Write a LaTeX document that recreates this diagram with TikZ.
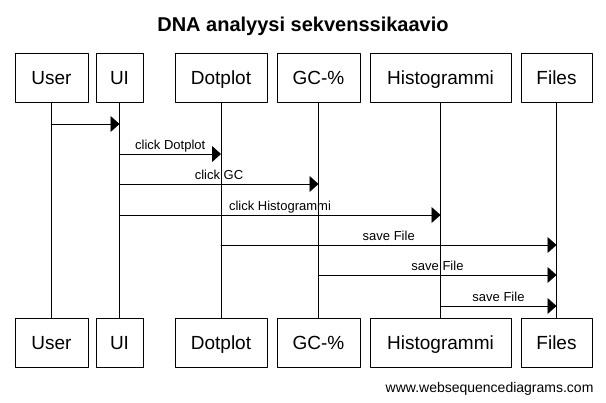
\documentclass[tikz,border=0pt]{standalone}
\usepackage{fontspec}
\setmainfont{Liberation Sans}
\usetikzlibrary{arrows.meta}
\begin{document}
\begin{tikzpicture}[x=1pt,y=-1pt,line join=round,line cap=round,>={Triangle[length=9pt,width=16pt]},
	actor/.style={draw,line width=0.8pt,minimum height=49pt,inner sep=0pt,text height=14pt,text depth=0pt,font=\fontsize{19}{19}\selectfont},
	msg/.style={->,line width=0.8pt},
	lbl/.style={anchor=base,yshift=4pt,inner sep=0pt,font=\fontsize{13}{13}\selectfont}]
\def \ytop{77.5}\def \ybot{343}
\useasboundingbox (0,0) rectangle (606,403);
\node[anchor=base,font=\fontsize{20}{20}\selectfont\bfseries] (title) at (303,32) {DNA analyysi sekvenssikaavio};
\foreach \n/\x/\w/\t in {user/51.5/73/User,ui/119.5/47/UI,dot/221/92/Dotplot,gc/318.5/83/GC-\%,hist/440.5/141/Histogrammi,files/556.5/71/Files}{
	\node[actor,minimum width=\w pt] (\n-top) at (\x,\ytop) {\t};
	\node[actor,minimum width=\w pt] (\n-bot) at (\x,\ybot) {\t};
	\draw[line width=0.8pt] (\n-top) -- (\n-bot);
}
\draw[msg] (user-top |- 0,124) -- (ui-top |- 0,124);
\foreach \a/\b/\y/\t in {ui/dot/154/click Dotplot,ui/gc/184/click GC,ui/hist/215/click Histogrammi,dot/files/245/save File,gc/files/275/save File,hist/files/306/save File}
	\draw[msg] (\a-top |- 0,\y) -- node[lbl]{\t} (\b-top |- 0,\y);
\node[anchor=base east,font=\fontsize{14}{14}\selectfont] (site) at (597,393) {www.websequencediagrams.com};
\end{tikzpicture}
\end{document}
